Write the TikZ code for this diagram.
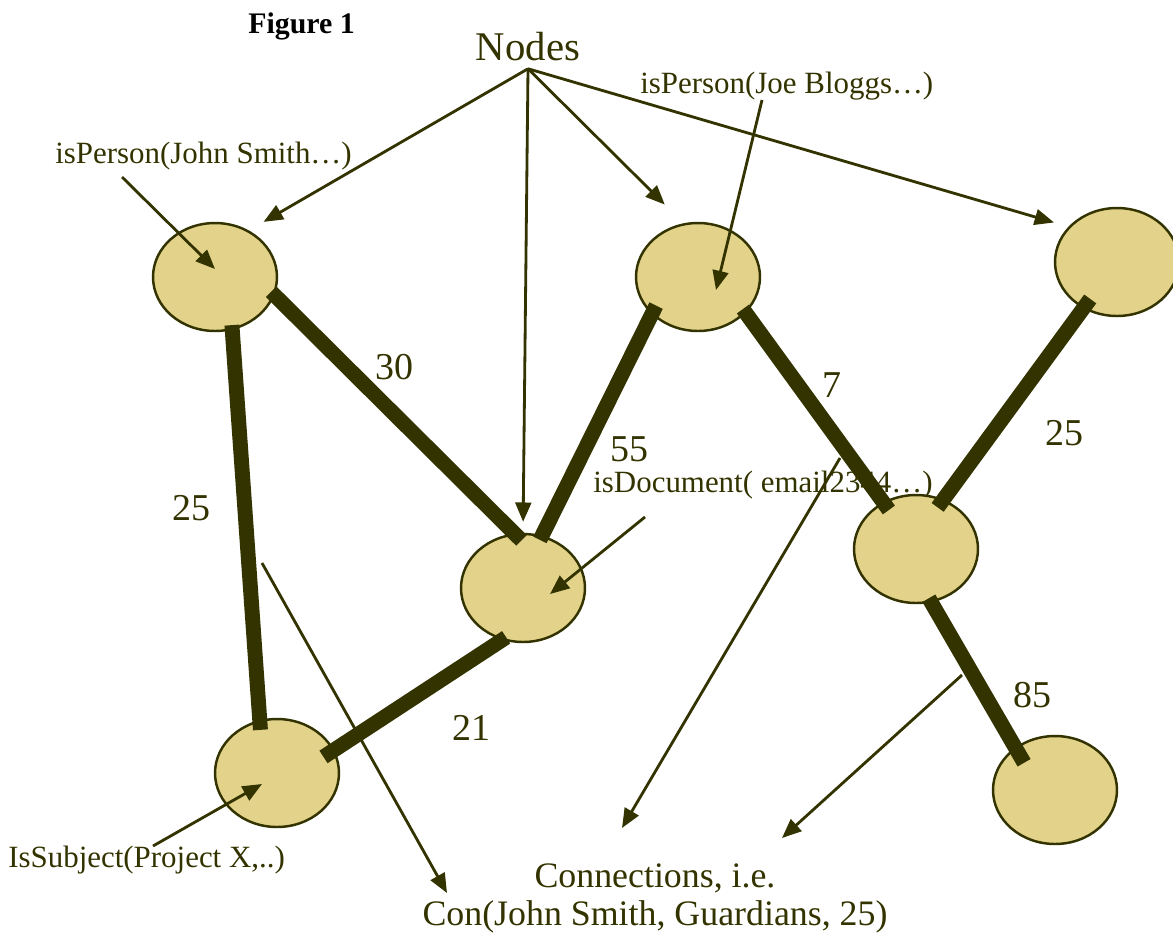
\documentclass[tikz,border=0pt]{standalone}
\usepackage{fontspec}
\setmainfont{Liberation Serif}
\usetikzlibrary{shapes.geometric,arrows.meta}
\definecolor{darkolive}{RGB}{51,51,0}
\definecolor{khaki}{RGB}{227,211,138}

\begin{document}
\begin{tikzpicture}[x=0.02cm,y=-0.02cm]
\tikzstyle{bubble}=[ellipse, draw=darkolive, fill=khaki, line width=1.4pt, minimum width=2.48cm, minimum height=2.16cm, inner sep=0pt]
\tikzstyle{link}=[draw=darkolive, line width=8.5pt, shorten <=-0.1cm, shorten >=-0.2cm]
\tikzstyle{pointer}=[color=darkolive, line width=1.6pt, -{Triangle[length=11pt,width=9pt]}]
\tikzstyle{lbl}=[text=darkolive, inner sep=0pt, anchor=base west, font=\fontsize{17.6}{20}\selectfont]
\tikzstyle{weight}=[text=darkolive, inner sep=0pt, anchor=base west, font=\fontsize{21.6}{24}\selectfont]
\useasboundingbox (0,0) rectangle (1173,937);
% titles
\node[anchor=base west, inner sep=0pt, font=\fontsize{17}{20}\selectfont\bfseries] (fig) at (248,33) {Figure 1};
\node[anchor=base, inner sep=0.16cm, text=darkolive, font=\fontsize{23.2}{26}\selectfont] (nodes) at (528,60) {Nodes};
\node[anchor=base, align=center, inner sep=0pt, text=darkolive, font=\fontsize{20.4}{21.6}\selectfont] (conn) at (655,925) {Connections, i.e.\\Con(John Smith, Guardians, 25)};
% labels
\node[lbl] (john) at (55,163) {isPerson(John Smith…)};
\node[lbl] (joe) at (640,93) {isPerson(Joe Bloggs…)};
\node[lbl] (doc) at (593,492) {isDocument( email2344…)};
\node[lbl] (subj) at (8,867) {IsSubject(Project X,..)};
% the nodes
\node[bubble] (v1) at (215,277) {};
\node[bubble] (v2) at (698,277) {};
\node[bubble] (v3) at (1117,262) {};
\node[bubble] (v4) at (523,588) {};
\node[bubble] (v5) at (916,549) {};
\node[bubble] (v6) at (277,773) {};
\node[bubble] (v7) at (1055,790) {};
% weights
\node[weight] (w16) at (172,520) {25};
\node[weight] (w14) at (375,379) {30};
\node[weight] (w42) at (610,461) {55};
\node[weight] (w25) at (822,397) {7};
\node[weight] (w35) at (1045,445) {25};
\node[weight] (w46) at (452,740) {21};
\node[weight] (w57) at (1013,707) {85};
% connections
\draw[link] (v1.288) -- (v6.108);
\draw[link] (v1.343) -- (v4.99);
\draw[link] (v4.70) -- (v2.219);
\draw[link, shorten >=-0.26cm] (v4.248) -- (v6.22);
\draw[link] (v2.323) -- (v5.125);
\draw[link, shorten <=-0.24cm] (v3.234) -- (v5.61);
\draw[link, shorten >=-0.36cm] (v5.286) -- (v7.133);
% pointers from Nodes
\draw[pointer, shorten >=0.34cm] (nodes.south) -- (v1.54);
\draw[pointer, shorten >=0.22cm] (nodes.south) -- (v4.north);
\draw[pointer, shorten >=0.53cm] (nodes.south) -- (v2.105);
\draw[pointer, shorten >=0.3cm] (nodes.south) -- (v3.144);
% pointers from labels
\draw[pointer] ([shift={(67,14)}]john.base west) -- ([shift={(0,-8)}]v1.center);
\draw[pointer] ([shift={(122,7)}]joe.base west) -- ([shift={(18,13)}]v2.center);
\draw[pointer] ([shift={(52,25)}]doc.base west) -- ([shift={(27,6)}]v4.center);
\draw[pointer] ([shift={(145,-21)}]subj.base west) -- ([shift={(-15,11)}]v6.center);
% pointers to Connections
\coordinate (c1) at (262,563);
\coordinate (c2) at (840,458);
\coordinate (c3) at (962,675);
\draw[pointer] (c1) -- ([shift={(-208,-32)}]conn.base);
\draw[pointer] (c2) -- ([shift={(-33,-97)}]conn.base);
\draw[pointer] (c3) -- ([shift={(127,-87)}]conn.base);
\end{tikzpicture}
\end{document}
